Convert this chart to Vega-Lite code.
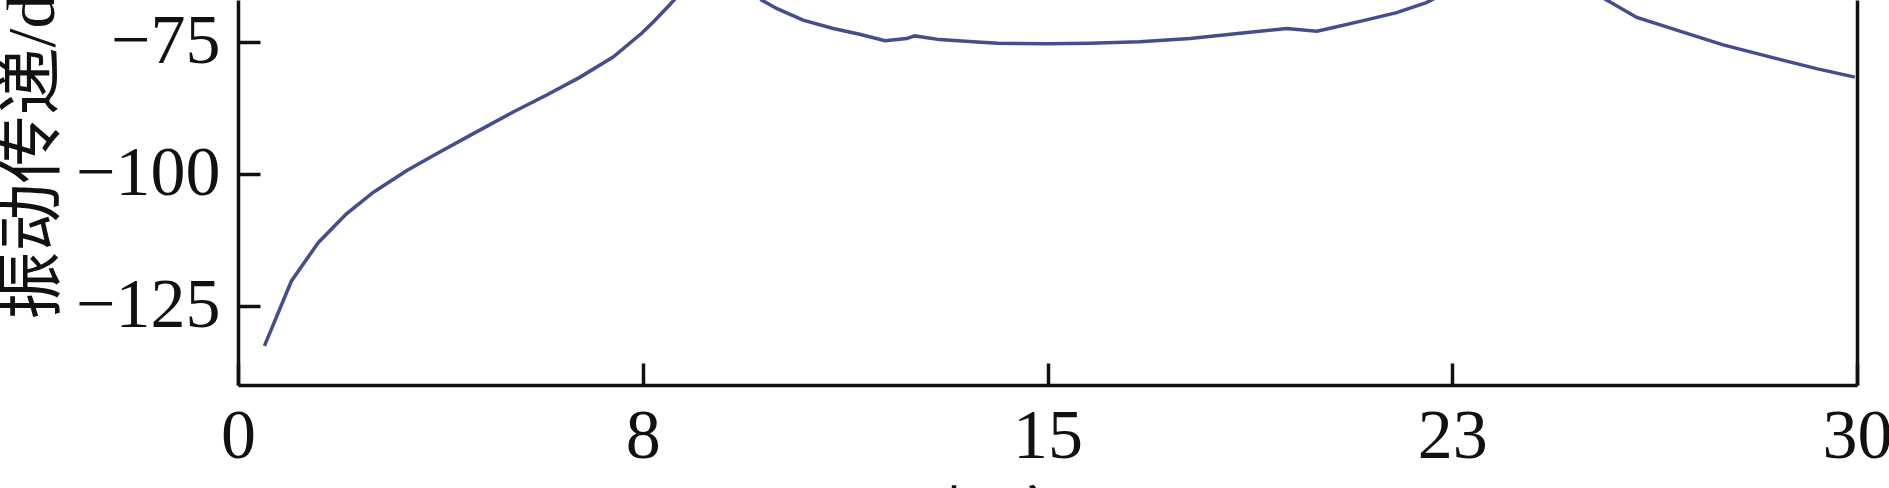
{
  "$schema": "https://vega.github.io/schema/vega-lite/v6.json",
  "width": 1619,
  "height": 385,
  "autosize": {"type": "none"},
  "padding": {"left": 238, "top": 0, "right": 32, "bottom": 103},
  "background": "white",
  "config": {
    "view": {"stroke": null},
    "axis": {
      "grid": false,
      "domainColor": "#111111",
      "domainWidth": 3.5,
      "tickColor": "#111111",
      "tickWidth": 3.5,
      "labelFont": "Liberation Serif",
      "labelFontSize": 70,
      "labelColor": "#111111",
      "titleColor": "#111111",
      "titleFontWeight": "normal"
    }
  },
  "data": {
    "values": [
      {"f": 0.49, "v": -132.6},
      {"f": 0.99, "v": -120.3},
      {"f": 1.49, "v": -113.0},
      {"f": 2.01, "v": -107.6},
      {"f": 2.51, "v": -103.5},
      {"f": 3.13, "v": -99.4},
      {"f": 3.68, "v": -96.2},
      {"f": 4.36, "v": -92.4},
      {"f": 5.10, "v": -88.3},
      {"f": 5.72, "v": -85.1},
      {"f": 6.34, "v": -81.7},
      {"f": 6.95, "v": -77.9},
      {"f": 7.48, "v": -73.4},
      {"f": 7.70, "v": -71.2},
      {"f": 8.0, "v": -68.0},
      {"f": 8.4, "v": -63.5},
      {"f": 8.9, "v": -58.0},
      {"f": 9.3, "v": -61.0},
      {"f": 9.7, "v": -67.1},
      {"f": 9.98, "v": -68.7},
      {"f": 10.47, "v": -70.9},
      {"f": 11.03, "v": -72.5},
      {"f": 11.52, "v": -73.6},
      {"f": 11.99, "v": -74.8},
      {"f": 12.39, "v": -74.4},
      {"f": 12.54, "v": -73.9},
      {"f": 13.0, "v": -74.6},
      {"f": 13.62, "v": -75.0},
      {"f": 14.08, "v": -75.3},
      {"f": 15.0, "v": -75.4},
      {"f": 15.79, "v": -75.3},
      {"f": 16.71, "v": -75.0},
      {"f": 17.64, "v": -74.4},
      {"f": 18.57, "v": -73.4},
      {"f": 19.43, "v": -72.5},
      {"f": 19.99, "v": -73.0},
      {"f": 20.3, "v": -72.3},
      {"f": 20.85, "v": -71.0},
      {"f": 21.47, "v": -69.5},
      {"f": 22.02, "v": -67.6},
      {"f": 22.6, "v": -64.5},
      {"f": 23.5, "v": -59.5},
      {"f": 24.4, "v": -61.0},
      {"f": 25.0, "v": -65.0},
      {"f": 25.36, "v": -67.1},
      {"f": 25.92, "v": -70.4},
      {"f": 26.66, "v": -72.8},
      {"f": 27.52, "v": -75.6},
      {"f": 28.51, "v": -78.2},
      {"f": 29.25, "v": -80.1},
      {"f": 29.96, "v": -81.7}
    ]
  },
  "layer": [
    {
      "mark": {"type": "line", "color": "#454D8C", "strokeWidth": 3.5, "clip": true},
      "encoding": {
        "x": {
          "field": "f",
          "type": "quantitative",
          "scale": {"domain": [0, 30], "nice": false, "zero": false},
          "axis": {
            "values": [0, 7.5, 15, 22.5, 30],
            "format": ".0f",
            "tickSize": -22,
            "labelPadding": 39,
            "labelFlush": false,
            "labelOverlap": false,
            "title": "频率/Hz",
            "titleFont": "Liberation Serif, Noto Sans CJK SC",
            "titleFontSize": 66,
            "titleBaseline": "top",
            "titleY": 103
          }
        },
        "y": {
          "field": "v",
          "type": "quantitative",
          "scale": {"domain": [-140, -67.1], "nice": false, "zero": false},
          "axis": {
            "orient": "left",
            "values": [-125, -100, -75],
            "tickSize": -22,
            "labelPadding": 40,
            "labelOverlap": false,
            "title": "振动传递/dB",
            "titleFont": "Liberation Serif, Noto Sans CJK SC",
            "titleFontSize": 68,
            "titleAngle": 270,
            "titleAlign": "left",
            "titleBaseline": "middle",
            "titleX": -205,
            "titleY": 319
          }
        }
      }
    },
    {
      "mark": {"type": "line", "opacity": 0, "clip": true},
      "encoding": {
        "x": {"field": "f", "type": "quantitative"},
        "y": {
          "field": "v",
          "type": "quantitative",
          "axis": {"orient": "right", "ticks": false, "labels": false, "title": null}
        }
      }
    }
  ],
  "resolve": {"axis": {"y": "independent"}}
}
